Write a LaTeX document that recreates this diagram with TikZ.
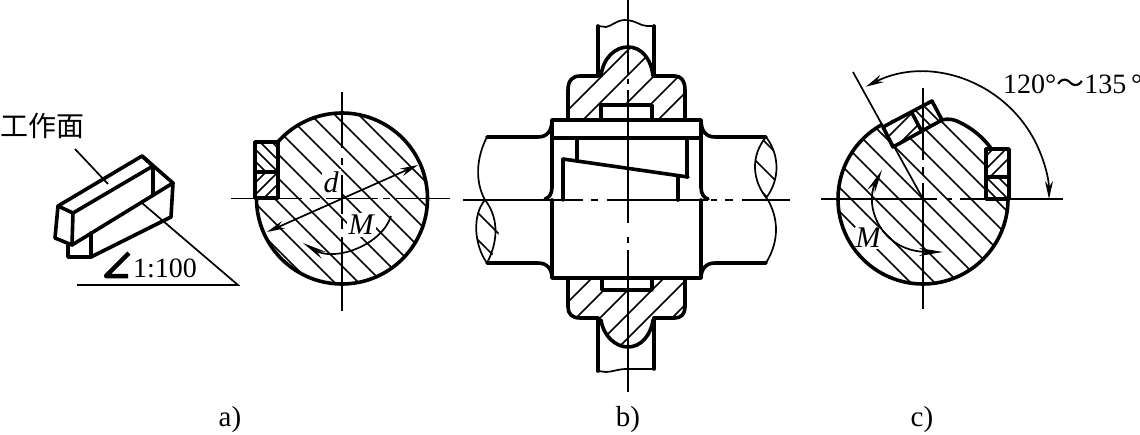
\documentclass[tikz,border=0pt]{standalone}
\usepackage{fontspec}
\setmainfont{Liberation Serif}
\newfontfamily\cjk{Noto Sans CJK SC}
\usetikzlibrary{arrows.meta}
\tikzset{
  outline/.style={line width=3.6pt,line join=round,line cap=round},
  thinline/.style={line width=1.7pt},
  hatchline/.style={line width=1.5pt},
  centerline/.style={line width=1.9pt},
  label/.style={font=\fontsize{29}{30}\selectfont,inner sep=0pt},
  dimarrow/.style={thinline,{Stealth[length=18pt,width=8pt]}-{Stealth[length=18pt,width=8pt]}},
  momentarrow/.style={thinline,-{Stealth[length=24pt,width=8pt]}},
}
\begin{document}
\begin{tikzpicture}[x=1pt,y=-1pt]
    \useasboundingbox (0,0) rectangle (1140,434);

    % a) the key on its own
    \node[label,font=\cjk\fontsize{28}{30}\selectfont] (face) at (42,126) {工作面};
    \draw[outline] (58,206) -- (142,156) -- (153,166) -- (73,213) -- cycle;
    \draw[outline] (58,206) -- (55,238) -- (72,245) -- (73,213);
    \draw[outline] (72,245) -- (173,183) -- (142,156);
    \draw[outline] (153,166) -- (153,195);
    \draw[outline] (173,183) -- (171,217) -- (91,257) -- (68,257) -- (68,245);
    \draw[outline] (91,257) -- (91,233);
    \draw[thinline] (75,149) -- (108,184);
    \draw[thinline] (142,203) -- (238,285) -- (77,285);
    \draw[line width=4.5pt,line join=round] (129,253) -- (106,276) -- (128,276);
    \node[label,anchor=base west,font=\fontsize{28}{30}\selectfont] (slope) at (133,277) {1:100};

    % a) section of the shaft
    \coordinate (shaftA) at (342,198.5);
    \begin{scope}
    \clip (shaftA) circle (85.5);
    \foreach \c in {28,52,...,244}
        \draw[hatchline] (\c,0) -- (\c+434,434);
    \end{scope}
    \node[label,fill=white,inner sep=2pt,font=\itshape\fontsize{30}{30}\selectfont] (dA) at (331,182) {d};
    \node[label,fill=white,inner sep=2pt,font=\itshape\fontsize{30}{30}\selectfont] (momentA) at (361,225) {M};
    \draw[outline] (shaftA) ++(222:85.5) arc[start angle=222,end angle=540,radius=85.5];
    \fill[white] (255,142) rectangle (278,198);
    \begin{scope}
    \clip (255,142) rectangle (278,172);
    \foreach \c in {94,106,118,130}
        \draw[hatchline] (\c,0) -- (\c+434,434);
    \end{scope}
    \begin{scope}
    \clip (255,172) rectangle (278,198);
    \foreach \c in {438,450,462}
        \draw[hatchline] (\c,0) -- (\c-434,434);
    \end{scope}
    \draw[outline] (255,142) rectangle (278,198);
    \draw[outline] (255,172) -- (278,172);
    \draw[dimarrow] (267,232) -- (418,165);
    \draw[momentarrow] (391,216) .. controls (382,245) and (335,262) .. (303,243);
    \draw[centerline,dash pattern=on 71pt off 8pt on 10pt off 6pt on 52pt off 5pt on 7pt off 6pt on 54pt] (231,198.5) -- (450,198.5);
    \draw[centerline,dash pattern=on 56pt off 10pt on 7pt off 10pt on 39pt off 5pt on 10pt off 8pt on 90pt] (342,92) -- (342,311);

    % b) shaft and hub, hatching first
    \begin{scope}
    \clip (568,119) -- (568,90) .. controls (568,81) and (572,76) .. (580,76) -- (600,76)
        .. controls (603,58) and (615,47) .. (628,47) .. controls (641,47) and (651,58) .. (653,76)
        -- (675,76) .. controls (681,76) and (685,81) .. (685,90) -- (685,119) -- cycle;
    \foreach \c in {678,703,730,755,778}
        \draw[hatchline] (\c,0) -- (\c-434,434);
    \end{scope}
    \begin{scope}
    \clip (568,278) -- (568,307) .. controls (568,314) and (572,318) .. (580,318) -- (600,318)
        .. controls (603,335) and (615,347) .. (628,347) .. controls (641,347) and (651,335) .. (653,318)
        -- (675,318) .. controls (681,318) and (685,314) .. (685,307) -- (685,278) -- cycle;
    \foreach \c in {870,894,918,942,966,990}
        \draw[hatchline] (\c,0) -- (\c-434,434);
    \end{scope}
    \fill[white] (601,105) rectangle (652,119);
    \fill[white] (602,278) rectangle (652,290);

    % b) upper hub and shank
    \draw[outline] (568,119) -- (568,90) .. controls (568,81) and (572,76) .. (580,76) -- (598,76);
    \draw[outline] (685,119) -- (685,90) .. controls (685,81) and (681,76) .. (675,76) -- (654,76);
    \draw[outline] (601,76) .. controls (603,58) and (615,47) .. (628,47) .. controls (641,47) and (651,58) .. (653,76);
    \draw[outline] (598,76) -- (598,26);
    \draw[outline] (654,76) -- (654,26);
    \draw[thinline] (598,26) -- (606,27) .. controls (612,26) and (615,21) .. (624,20) .. controls (636,20) and (640,26) .. (647,26) -- (654,26);
    \draw[outline] (601,119) -- (601,105) -- (652,105) -- (652,119);

    % b) lower hub and shank
    \draw[outline] (568,278) -- (568,307) .. controls (568,314) and (572,318) .. (580,318) -- (598,318);
    \draw[outline] (685,278) -- (685,307) .. controls (685,314) and (681,318) .. (675,318) -- (654,318);
    \draw[outline] (601,320) .. controls (603,335) and (615,347) .. (628,347) .. controls (641,347) and (651,335) .. (653,320);
    \draw[outline] (598,318) -- (598,371);
    \draw[outline] (654,318) -- (654,369);
    \draw[thinline] (598,371) -- (606,372) .. controls (612,372) and (618,369) .. (626,369) -- (654,369);
    \draw[outline] (602,278) -- (602,290) -- (652,290) -- (652,278);

    % b) collar and taper key
    \draw[outline] (552,120) rectangle (701,138);
    \draw[outline] (552,138) -- (552,187);
    \draw[outline] (701,138) -- (701,187);
    \draw[outline] (552,200) -- (552,278) -- (701,278) -- (701,200);
    \draw[outline] (577,138) -- (577,159);
    \draw[outline] (687,138) -- (687,177);
    \draw[outline] (563,200) -- (563,159) -- (688,177);
    \draw[outline] (678,177) -- (678,200);

    % b) shaft ends and breaks
    \draw[outline] (487,137) -- (538,137) .. controls (547,137) and (552,131) .. (552,120);
    \draw[outline] (766,137) -- (715,137) .. controls (706,137) and (701,131) .. (701,120);
    \draw[outline] (487,263) -- (538,263) .. controls (547,263) and (552,269) .. (552,278);
    \draw[outline] (766,263) -- (715,263) .. controls (706,263) and (701,269) .. (701,278);
    \draw[outline] (552,187) .. controls (552,194) and (549,198) .. (545,199);
    \draw[outline] (701,187) .. controls (701,194) and (704,198) .. (708,199);
    \begin{scope}
    \clip (485,200) .. controls (472,215) and (474,245) .. (487,262) .. controls (503,245) and (503,215) .. (485,200);
    \foreach \c in {265,238}
        \draw[hatchline] (\c,0) -- (\c+434,434);
    \end{scope}
    \begin{scope}
    \clip (765,137) .. controls (751,155) and (751,180) .. (766,198) .. controls (780,180) and (780,155) .. (765,137);
    \foreach \c in {570,595,623}
        \draw[hatchline] (\c,0) -- (\c+434,434);
    \end{scope}
    \draw[thinline] (487,137) .. controls (476,158) and (475,182) .. (485,200)
        .. controls (493,210) and (503,232) .. (487,263);
    \draw[thinline] (485,200) .. controls (472,215) and (474,245) .. (487,263);
    \draw[thinline] (766,137) .. controls (751,155) and (751,180) .. (768,200)
        .. controls (778,218) and (780,240) .. (766,263);
    \draw[thinline] (766,137) .. controls (780,155) and (780,180) .. (766,198);
    \draw[centerline,dash pattern=on 120pt off 8pt on 7pt off 9pt on 101pt off 3pt on 6pt off 8pt on 8pt off 9pt on 48pt] (463,200) -- (790,200);
    \draw[centerline,dash pattern=on 75pt off 4pt on 5pt off 6pt on 133pt off 14pt on 6pt off 7pt on 142pt] (628,0) -- (628,392);

    % c) section of the shaft
    \coordinate (shaftC) at (923,199);
    \begin{scope}
    \clip (shaftC) circle (85);
    \foreach \c in {604,628,...,844}
        \draw[hatchline] (\c,0) -- (\c+434,434);
    \end{scope}
    \node[label,fill=white,inner sep=1pt,font=\itshape\fontsize{30}{30}\selectfont] (momentC) at (868,238) {M};
    \draw[outline] (shaftC) ++(0:85) arc[start angle=0,end angle=241,radius=85];
    \draw[outline] (942,120) .. controls (950,118) and (955,120) .. (960,122.5)
        arc[start angle=296,end angle=323,radius=85];

    % c) the two keys
    \fill[white] (986,149) rectangle (1009,199);
    \begin{scope}
    \clip (986,149) rectangle (1009,177);
    \foreach \c in {1142,1155,1167}
        \draw[hatchline] (\c,0) -- (\c-434,434);
    \end{scope}
    \begin{scope}
    \clip (986,177) rectangle (1009,199);
    \foreach \c in {798,809,821}
        \draw[hatchline] (\c,0) -- (\c+434,434);
    \end{scope}
    \draw[outline] (986,149) rectangle (1009,199);
    \draw[outline] (986,177) -- (1009,177);

    \fill[white] (883,127) -- (932,101) -- (942,120) -- (893,147) -- cycle;
    \begin{scope}
    \clip (883,127) -- (912,113) -- (922,132) -- (893,147) -- cycle;
    \foreach \c in {1025,1043}
        \draw[hatchline] (\c,0) -- (\c-434,434);
    \end{scope}
    \begin{scope}
    \clip (912,113) -- (932,101) -- (942,120) -- (922,132) -- cycle;
    \foreach \c in {805,818}
        \draw[hatchline] (\c,0) -- (\c+434,434);
    \end{scope}
    \draw[outline] (883,127) -- (932,101) -- (942,120) -- (893,147) -- cycle;
    \draw[outline] (912,113) -- (922,132);

    % c) dimension and moment
    \draw[thinline] (853,72) -- (shaftC);
    \draw[dimarrow] (shaftC) ++(243:126) arc[start angle=243,end angle=360,radius=126];
    \draw[dimarrow,{Stealth[length=24pt,width=8pt]}-{Stealth[length=24pt,width=8pt]}] (882,170) .. controls (864,205) and (880,252) .. (943,252);
    \draw[centerline,dash pattern=on 116pt off 10pt on 5pt off 8pt on 103pt] (821,199) -- (1063,199);
    \draw[centerline,dash pattern=on 72pt off 7pt on 8pt off 8pt on 126pt] (923,88) -- (923,309);
    \node[label,anchor=base west,font=\fontsize{28}{30}\selectfont] (angle) at (1003,93) {120°{\cjk～}135\,°};

    % captions
    \node[label] (capA) at (230,420) {a)};
    \node[label] (capB) at (628,420) {b)};
    \node[label] (capC) at (922,420) {c)};
\end{tikzpicture}
\end{document}
